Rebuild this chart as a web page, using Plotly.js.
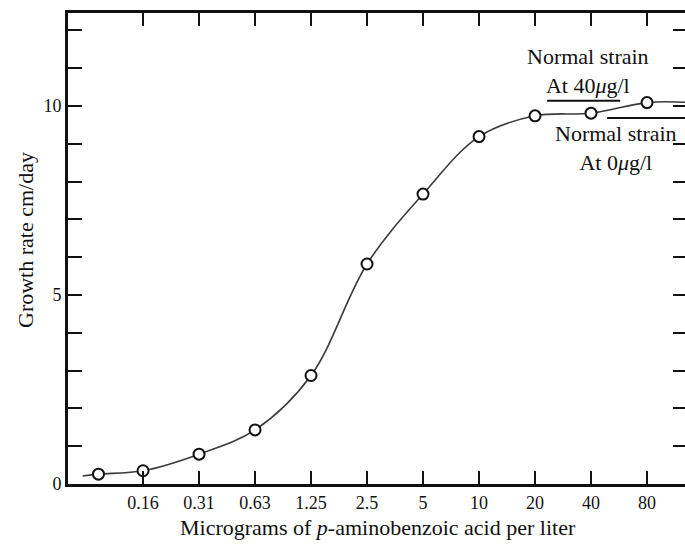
<!DOCTYPE html>
<html>
<head>
<meta charset="utf-8">
<script src="https://cdn.plot.ly/plotly-3.0.1.min.js"></script>
<style>
  html, body { margin: 0; padding: 0; background: #fff; overflow: hidden; }
  #chart { width: 690px; height: 545px; }
</style>
</head>
<body>
<div id="chart"></div>
<script>
// ---- data ----
const concentration = [0.09, 0.15625, 0.3125, 0.625, 1.25, 2.5, 5, 10, 20, 40, 80];
const growthRate    = [0.26, 0.35, 0.79, 1.43, 2.87, 5.82, 7.67, 9.19, 9.74, 9.81, 10.09];

// fitted curve: the measured points plus its visible start and end
const curveStartX = 0.074, curveStartY = 0.21;
const curveEndX = 128,     curveEndY = 10.1;
const curveX = [curveStartX].concat(concentration, [curveEndX]);
const curveY = [curveStartY].concat(growthRate, [curveEndY]);

// normal strain reference levels (cm/day)
const normalStrainLevels = [10.14, 9.68];
const normalStrainLabels = ['Normal strain<br>At 40<i>μ</i>g/l', 'Normal strain<br>At 0<i>μ</i>g/l'];

// axis ticks and titles
const xTickValues = [0.15625, 0.3125, 0.625, 1.25, 2.5, 5, 10, 20, 40, 80];
const xTickLabels = ['0.16', '0.31', '0.63', '1.25', '2.5', '5', '10', '20', '40', '80'];
const yTickValues = [0, 1, 2, 3, 4, 5, 6, 7, 8, 9, 10, 11, 12];
const yTickLabels = ['0', '', '', '', '', '5', '', '', '', '', '10', '', ''];
const xTitle = 'Micrograms of <i>p</i>-aminobenzoic acid per liter';
const yTitle = 'Growth rate cm/day';

const serif = '"Liberation Serif", "Times New Roman", serif';
const ink = '#111';

const traces = [
  {
    x: curveX, y: curveY,
    mode: 'lines',
    line: { color: '#3a3a3a', width: 1.6, shape: 'spline', smoothing: 1.0 },
    hoverinfo: 'skip', showlegend: false
  },
  {
    x: concentration, y: growthRate,
    mode: 'markers',
    marker: { symbol: 'circle', size: 11, color: '#ffffff', line: { color: ink, width: 2 } },
    showlegend: false
  }
];

const layout = {
  width: 690, height: 545,
  margin: { l: 68, r: 3, t: 13, b: 61 },
  paper_bgcolor: '#ffffff', plot_bgcolor: '#ffffff',
  font: { family: serif, color: ink },
  showlegend: false,
  xaxis: {
    type: 'log',
    range: [-1.2096, 2.118],
    tickmode: 'array', tickvals: xTickValues, ticktext: xTickLabels,
    ticks: 'inside', ticklen: 13, tickwidth: 2, tickcolor: ink,
    showline: true, linewidth: 3, linecolor: ink, mirror: 'ticks',
    showgrid: false, zeroline: false,
    tickfont: { family: serif, size: 18, color: ink }
  },
  yaxis: {
    range: [0, 12.46],
    tickmode: 'array', tickvals: yTickValues, ticktext: yTickLabels,
    ticks: 'inside', ticklen: 14, tickwidth: 2, tickcolor: ink,
    showline: true, linewidth: 3, linecolor: ink, mirror: 'ticks',
    showgrid: false, zeroline: false,
    tickfont: { family: serif, size: 18, color: ink }
  },
  shapes: [
    { type: 'line', xref: 'paper', yref: 'y', x0: 0.774, x1: 0.892, y0: normalStrainLevels[0], y1: normalStrainLevels[0], line: { color: ink, width: 2 } },
    { type: 'line', xref: 'paper', yref: 'y', x0: 0.871, x1: 1.0, y0: normalStrainLevels[1], y1: normalStrainLevels[1], line: { color: ink, width: 2 } }
  ],
  annotations: [
    { xref: 'paper', yref: 'y', x: 0.840, xanchor: 'center', y: normalStrainLevels[0], yanchor: 'bottom', yshift: 1, showarrow: false,
      text: normalStrainLabels[0], align: 'center', font: { family: serif, size: 22, color: ink } },
    { xref: 'paper', yref: 'y', x: 0.886, xanchor: 'center', y: normalStrainLevels[1], yanchor: 'top', yshift: -1, showarrow: false,
      text: normalStrainLabels[1], align: 'center', font: { family: serif, size: 22, color: ink } },
    { xref: 'paper', yref: 'paper', x: 0.501, xanchor: 'center', y: -0.0913, yanchor: 'middle', showarrow: false,
      text: xTitle, font: { family: serif, size: 22, color: ink } },
    { xref: 'paper', yref: 'paper', x: -0.0695, xanchor: 'center', y: 0.518, yanchor: 'middle', showarrow: false,
      textangle: -90, text: yTitle, font: { family: serif, size: 22, color: ink } }
  ]
};

Plotly.newPlot('chart', traces, layout, { staticPlot: true, displayModeBar: false });
</script>
</body>
</html>
